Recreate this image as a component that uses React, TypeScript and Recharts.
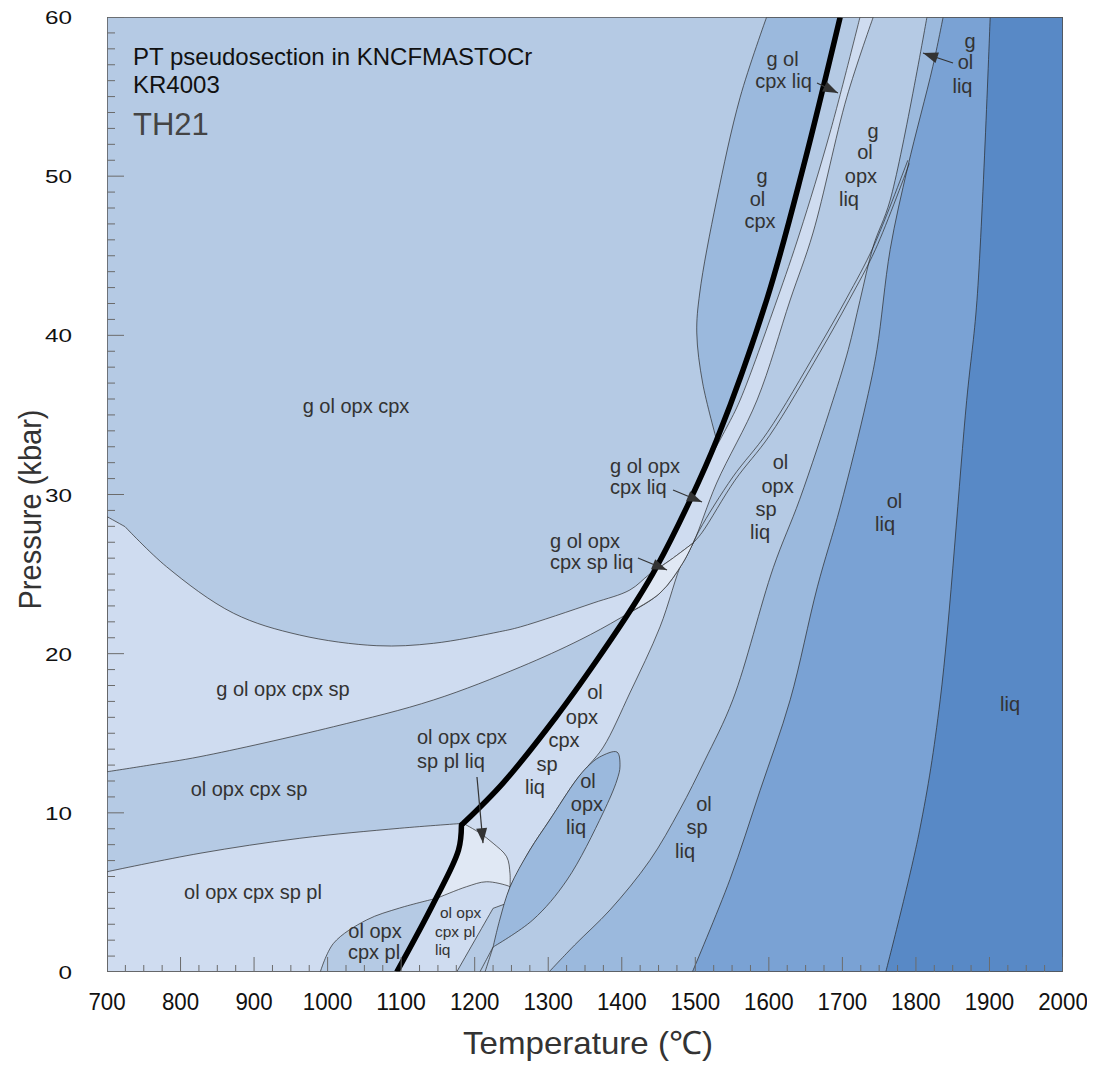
import { ComposedChart, Area, Line, Scatter, XAxis, YAxis } from 'recharts'

type Pt = [number, number] // [temperature °C, pressure kbar]

const T_LABELS = [700, 800, 900, 1000, 1100, 1200, 1300, 1400, 1500, 1600, 1700, 1800, 1900, 2000]
const P_LABELS = [0, 10, 20, 30, 40, 50, 60]

// phase boundaries
const SOLIDUS: Pt[] = [[1094, 0], [1144, 4.32], [1178, 7.66], [1182, 9.24], [1184.5, 9.34], [1238.5, 11.87], [1310.6, 16.02], [1366.3, 19.6], [1420.7, 23.37], [1447.5, 25.46], [1493, 29.65], [1529, 33.42], [1597, 42.22], [1647, 50.6], [1697, 60]]
const LIQ_ONLY: Pt[] = [[1901, 60], [1883, 42.2], [1869, 35.9], [1833, 17.1], [1805, 8.9], [1759, 0]]
const OL_LIQ: Pt[] = [[1837, 60], [1823, 56.9], [1789, 50.6], [1765, 45.4], [1747, 39.1], [1733, 35.9], [1697, 29.2], [1666, 24.2], [1629, 17.1], [1588, 11.4], [1547, 5.8], [1496, 0]]
const OPX_OUT: Pt[] = [[1815, 60], [1765, 48.5], [1742, 45.6], [1724, 42.2], [1708, 39.1], [1687, 35.9], [1642, 29.7], [1606, 25.4], [1551, 17.1], [1513, 13.3], [1479, 10.2], [1438, 7.0], [1384, 3.9], [1336, 1.7], [1301, 0]]
const G_OUT: Pt[] = [[1789, 51.0], [1742, 45.55], [1706, 42.35], [1666, 39.1], [1598, 33.9], [1551, 31.1], [1506, 27.8], [1497, 26.95]]
const SP_IN: Pt[] = [[1791, 50.8], [1745, 45.4], [1709, 42.2], [1669, 38.9], [1601, 33.7], [1554, 30.9], [1509, 27.6], [1497, 26.95]]
const CPX_OUT: Pt[] = [[1742, 60], [1706, 54.96], [1660, 46.43], [1629, 42.22], [1584, 35.94], [1529, 30.72], [1497, 26.95], [1483, 25.88], [1452, 21.68], [1411, 17.53], [1375, 14.14], [1353, 12.88], [1338, 12.06], [1302, 9.55], [1275, 7.66], [1248, 5.34]]
const PL_LIQ_EDGE: Pt[] = [[1248, 5.34], [1241, 4.27], [1225, 4.0], [1175.5, 0]]
const OPX_IN: Pt[] = [[1724, 60], [1683, 52.71], [1642, 46.43], [1611, 42.22], [1561, 35.94], [1543, 34.24], [1517, 32.04]]
const GOC_EDGE: Pt[] = [[1597, 60], [1561, 54.96], [1529, 48.5], [1506, 42.66], [1502, 40.15], [1510, 37.0], [1529, 33.42]]
const DOME_BASE: Pt[] = [[700, 28.61], [724.5, 27.98], [781, 25.46], [872, 22.54], [962, 21.17], [1067, 20.5], [1144, 20.65], [1234, 21.38], [1262, 21.68], [1361, 23.18], [1411, 24.0], [1438, 25.0], [1466, 25.88], [1497, 26.95]]
const G_LOW: Pt[] = [[700, 12.58], [758, 13.0], [826.5, 13.53], [1008, 15.41], [1144, 17.09], [1262, 19.16], [1343, 20.86], [1398, 22.24], [1452, 23.81], [1483, 25.7], [1497, 26.95]]
const SP_PL: Pt[] = [[700, 6.3], [826.5, 7.46], [962, 8.4], [1098, 9.03], [1184.5, 9.34]]
const PL_OUT: Pt[] = [[1184.5, 9.34], [1207, 8.73], [1225, 8.09], [1243.5, 7.24], [1248, 6.2], [1248, 5.34]]
const PL_IN: Pt[] = [[990, 0], [1008, 1.8], [1053, 3.27], [1098, 4.02], [1148, 4.63], [1189, 5.36], [1216, 5.67], [1246, 5.4], [1248, 5.34]]
const LENS: Pt[] = [[1225, 1.57], [1234, 3.27], [1248, 5.34], [1275, 7.66], [1302, 9.55], [1338, 12.06], [1353, 12.88], [1370, 13.51], [1393.5, 13.82], [1397.6, 12.94], [1393.5, 12.06], [1374.5, 9.99], [1325.5, 5.78], [1279, 3.27], [1225, 1.57]]
const LENS_TAILS: Pt[][] = [[[1225, 1.57], [1207, 0]], [[1225, 1.57], [1214, 0]]]

const ARROWS: Pt[][] = [
  [[1469.7, 30.28], [1509.1, 29.53]],
  [[1422, 26.01], [1461.5, 25.26]],
  [[1203.1, 12.25], [1211.3, 8.1]],
  [[1665.5, 55.85], [1694, 55.22]],
  [[1850.4, 57.11], [1809.6, 57.74]],
]

const LABELS = [
  { t: 1038.6, p: 35.12, text: 'g ol opx cpx' },
  { t: 939.3, p: 17.34, text: 'g ol opx cpx sp' },
  { t: 893.1, p: 11.06, text: 'ol opx cpx sp' },
  { t: 898.5, p: 4.59, text: 'ol opx cpx sp pl' },
  { t: 1064.4, p: 2.14, text: 'ol opx' },
  { t: 1063.1, p: 0.82, text: 'cpx pl' },
  { t: 1363.6, p: 17.15, text: 'ol' },
  { t: 1345.9, p: 15.58, text: 'opx' },
  { t: 1321.4, p: 14.14, text: 'cpx' },
  { t: 1298.3, p: 12.63, text: 'sp' },
  { t: 1282, p: 11.18, text: 'liq' },
  { t: 1354, p: 11.56, text: 'ol' },
  { t: 1352.7, p: 10.12, text: 'opx' },
  { t: 1337.8, p: 8.67, text: 'liq' },
  { t: 1511.8, p: 10.12, text: 'ol' },
  { t: 1502.3, p: 8.67, text: 'sp' },
  { t: 1486, p: 7.16, text: 'liq' },
  { t: 1615.9, p: 31.6, text: 'ol' },
  { t: 1611.8, p: 30.09, text: 'opx' },
  { t: 1596.1, p: 28.65, text: 'sp' },
  { t: 1588, p: 27.2, text: 'liq' },
  { t: 1770.9, p: 29.15, text: 'ol' },
  { t: 1758, p: 27.71, text: 'liq' },
  { t: 1928, p: 16.4, text: 'liq' },
  { t: 1618.6, p: 56.92, text: 'g ol' },
  { t: 1620, p: 55.54, text: 'cpx liq' },
  { t: 1590.7, p: 49.57, text: 'g' },
  { t: 1584.6, p: 48.13, text: 'ol' },
  { t: 1588, p: 46.74, text: 'cpx' },
  { t: 1741.6, p: 52.4, text: 'g' },
  { t: 1730.8, p: 51.08, text: 'ol' },
  { t: 1725.3, p: 49.57, text: 'opx' },
  { t: 1709, p: 48.13, text: 'liq' },
  { t: 1873.5, p: 58.05, text: 'g' },
  { t: 1867.4, p: 56.73, text: 'ol' },
  { t: 1863.3, p: 55.22, text: 'liq' },
]
const LEFT_LABELS = [
  { t: 1121.5, p: 14.32, text: 'ol opx cpx' },
  { t: 1121.5, p: 12.82, text: 'sp pl liq' },
  { t: 1384, p: 31.35, text: 'g ol opx' },
  { t: 1384, p: 30.03, text: 'cpx liq' },
  { t: 1302.4, p: 26.64, text: 'g ol opx' },
  { t: 1302.4, p: 25.32, text: 'cpx sp liq' },
]
const SMALL_LABELS = [
  { t: 1152.8, p: 3.39, text: 'ol opx' },
  { t: 1146, p: 2.2, text: 'cpx pl' },
  { t: 1146, p: 1.07, text: 'liq' },
]
const TITLE = [
  { t: 735.4, p: 57.0, text: 'PT pseudosection in KNCFMASTOCr' },
  { t: 735.4, p: 55.22, text: 'KR4003' },
]
const SAMPLE = [{ t: 735.4, p: 52.59, text: 'TH21' }]

const FILL = ['#e0e8f4', '#cfdcf0', '#b5cae4', '#9bb9dd', '#7aa2d4', '#5889c6']
const FONT = '"Liberation Sans", Arial, sans-serif'

const rows = (pts: Pt[]) => pts.map(([t, p]) => ({ t, p }))
// pieces are joined with their shared end points doubled, which the curve below reads as a corner
const join = (...pieces: Pt[][]): Pt[] => pieces.flat()
const straight = (c: Pt[]): Pt[][] => c.slice(1).map((p, i) => [c[i], p])
const rightOf = (c: Pt[]): Pt[] => join(c, [c[c.length - 1], [2000, 0]], [[2000, 0], [2000, 60]], [[2000, 60], c[0]])

// centripetal Catmull-Rom through the points, broken into pieces wherever a point repeats
function smooth(context: any) {
  let pts: Pt[] = []
  let line = NaN
  const dist = (a: Pt, b: Pt) => Math.hypot(a[0] - b[0], a[1] - b[1])
  const segment = (p0: Pt | undefined, p1: Pt, p2: Pt, p3: Pt | undefined) => {
    const l12 = dist(p1, p2), l12a = Math.sqrt(l12)
    let c1: Pt = p1, c2: Pt = p2
    if (p0) {
      const l01 = dist(p0, p1), a1 = Math.sqrt(l01)
      if (a1 > 1e-6) {
        const A = 2 * l01 + 3 * a1 * l12a + l12, n = 3 * a1 * (a1 + l12a)
        c1 = [(p1[0] * A - p0[0] * l12 + p2[0] * l01) / n, (p1[1] * A - p0[1] * l12 + p2[1] * l01) / n]
      }
    }
    if (p3) {
      const l23 = dist(p2, p3), b1 = Math.sqrt(l23)
      if (b1 > 1e-6) {
        const B = 2 * l23 + 3 * b1 * l12a + l12, m = 3 * b1 * (b1 + l12a)
        c2 = [(p2[0] * B + p1[0] * l23 - p3[0] * l12) / m, (p2[1] * B + p1[1] * l23 - p3[1] * l12) / m]
      }
    }
    context.bezierCurveTo(c1[0], c1[1], c2[0], c2[1], p2[0], p2[1])
  }
  const draw = () => {
    const pieces: Pt[][] = []
    let cur: Pt[] = []
    for (const p of pts) {
      const last = cur[cur.length - 1]
      if (last && Math.abs(last[0] - p[0]) < 1e-6 && Math.abs(last[1] - p[1]) < 1e-6) {
        pieces.push(cur)
        cur = [p]
      } else cur.push(p)
    }
    pieces.push(cur)
    pieces.forEach((pc, k) => {
      if (k === 0) {
        if (line) context.lineTo(pc[0][0], pc[0][1])
        else context.moveTo(pc[0][0], pc[0][1])
      }
      for (let i = 0; i < pc.length - 1; i++) segment(pc[i - 1], pc[i], pc[i + 1], pc[i + 2])
    })
  }
  return {
    areaStart() { line = 0 },
    areaEnd() { line = NaN },
    lineStart() { pts = [] },
    lineEnd() {
      if (pts.length) draw()
      if (line || (line !== 0 && pts.length === 1)) context.closePath()
      line = 1 - line
    },
    point(x: number, y: number) { pts.push([+x, +y]) },
  }
}

function crossing(a: Pt[], b: Pt[]) {
  for (let i = 0; i < a.length - 1; i++) {
    for (let j = 0; j < b.length - 1; j++) {
      const [x1, y1] = a[i], [x2, y2] = a[i + 1], [x3, y3] = b[j], [x4, y4] = b[j + 1]
      const d = (x1 - x2) * (y3 - y4) - (y1 - y2) * (x3 - x4)
      if (!d) continue
      const s = ((x1 - x3) * (y3 - y4) - (y1 - y3) * (x3 - x4)) / d
      const u = -((x1 - x2) * (y1 - y3) - (y1 - y2) * (x1 - x3)) / d
      if (s >= 0 && s <= 1 && u >= 0 && u <= 1) {
        return { i, j, pt: [x1 + s * (x2 - x1), y1 + s * (y2 - y1)] as Pt }
      }
    }
  }
  return { i: 0, j: 0, pt: a[0] }
}

function buildRegions() {
  const mergePt = OPX_IN[OPX_IN.length - 1]
  const kink = SP_PL[SP_PL.length - 1]
  const kinkIdx = SOLIDUS.findIndex(([, p]) => p === kink[1])
  const low = SOLIDUS.slice(0, kinkIdx + 1)
  const high = SOLIDUS.slice(kinkIdx)
  const pl = crossing(PL_IN, SOLIDUS)
  const up = crossing(DOME_BASE, SOLIDUS)
  const lo = crossing(G_LOW, SOLIDUS)
  const plEnd = PL_LIQ_EDGE[PL_LIQ_EDGE.length - 1]

  const liqBand = join(
    CPX_OUT, ...straight(PL_LIQ_EDGE), [plEnd, SOLIDUS[0]], low,
    [...high.filter(([, p]) => p < mergePt[1]), mergePt], [...OPX_IN].reverse(), [OPX_IN[0], CPX_OUT[0]],
  )
  const gBand = join(DOME_BASE.slice(0, 2), DOME_BASE.slice(1), [...G_LOW].reverse(), [G_LOW[0], DOME_BASE[0]])
  const spPl = join(SP_PL, [...low].reverse(), [SOLIDUS[0], [700, 0]], [[700, 0], SP_PL[0]])
  const plLens = join([...PL_IN.slice(0, pl.i + 1), pl.pt], [pl.pt, ...SOLIDUS.slice(0, pl.j + 1).reverse()], [SOLIDUS[0], PL_IN[0]])
  const smallSix = join(PL_OUT, [...PL_IN.slice(pl.i + 1).reverse(), pl.pt], [pl.pt, ...SOLIDUS.slice(pl.j + 1, kinkIdx + 1)])
  const bigSix = join(
    [up.pt, ...DOME_BASE.slice(up.i + 1)], [...G_LOW.slice(lo.i + 1).reverse(), lo.pt],
    [lo.pt, ...SOLIDUS.slice(lo.j + 1, up.j + 1), up.pt],
  )
  const gocEnd = GOC_EDGE[GOC_EDGE.length - 1]
  const gocDome = join(GOC_EDGE, [gocEnd, ...SOLIDUS.filter(([, p]) => p > gocEnd[1])], [SOLIDUS[SOLIDUS.length - 1], GOC_EDGE[0]])

  return [
    { pts: join([[700, 0], [2000, 0]], [[2000, 0], [2000, 60]], [[2000, 60], [700, 60]], [[700, 60], [700, 0]]), fill: FILL[2], line: false },
    { pts: rightOf(OPX_OUT), fill: FILL[3], line: true },
    { pts: rightOf(OL_LIQ), fill: FILL[4], line: true },
    { pts: rightOf(LIQ_ONLY), fill: FILL[5], line: true },
    { pts: liqBand, fill: FILL[1], line: true },
    { pts: gBand, fill: FILL[1], line: true },
    { pts: spPl, fill: FILL[1], line: true },
    { pts: plLens, fill: FILL[2], line: true },
    { pts: bigSix, fill: FILL[0], line: true },
    { pts: smallSix, fill: FILL[0], line: true },
    { pts: LENS, fill: FILL[3], line: true },
    { pts: gocDome, fill: FILL[3], line: true },
  ]
}

const TICK_MARKS = [
  ...Array.from({ length: 61 }, (_, k) => ({ t: 700, p: k, side: 'y', major: k % 10 === 0 })),
  ...Array.from({ length: 53 }, (_, k) => ({ t: 700 + k * 25, p: 0, side: 'x', major: k % 4 === 0 })),
]

const tickMark = (props: any) => {
  const { cx, cy, payload } = props
  const len = payload.side === 'y' ? (payload.major ? 17 : 8) : (payload.major ? 15 : 7)
  return payload.side === 'y'
    ? <line x1={cx} x2={cx + len} y1={cy} y2={cy} stroke="#6b6b6b" strokeWidth={1} />
    : <line x1={cx} x2={cx} y1={cy} y2={cy - len} stroke="#6b6b6b" strokeWidth={1} />
}

const textShape = (size: number, anchor: 'middle' | 'start', color = '#333') => (props: any) => (
  <text x={props.cx} y={props.cy} textAnchor={anchor} fontSize={size} fill={color} fontFamily={FONT}>
    {props.payload.text}
  </text>
)

function arrowDot() {
  let tail = { x: 0, y: 0 }
  return (props: any) => {
    const { cx, cy, index, points } = props
    if (index === 0) {
      tail = { x: cx, y: cy }
      return <g key="tail" />
    }
    const from = points && points[0] ? points[0] : tail
    const a = Math.atan2(cy - from.y, cx - from.x)
    const L = 15, W = 5.5
    const bx = cx - L * Math.cos(a), by = cy - L * Math.sin(a)
    const pts = `${cx},${cy} ${bx + W * Math.sin(a)},${by - W * Math.cos(a)} ${bx - W * Math.sin(a)},${by + W * Math.cos(a)}`
    return <polygon key="head" points={pts} fill="#333" />
  }
}

const TempTick = (props: any) => {
  const { x, y, payload } = props
  const s = String(payload.value)
  return (
    <text x={x} y={y + 38} textAnchor="middle" fontSize={24} fill="#111" fontFamily={FONT}
      textLength={s.length * 12.4} lengthAdjust="spacingAndGlyphs">{s}</text>
  )
}

const PresTick = (props: any) => {
  const { x, y, payload } = props
  const s = String(payload.value)
  return (
    <text x={x - 35} y={y + 7} textAnchor="end" fontSize={18} fill="#111" fontFamily={FONT}
      textLength={s.length * 13.5} lengthAdjust="spacingAndGlyphs">{s}</text>
  )
}

export default function App() {
  const regions = buildRegions()
  const kinkIdx = SOLIDUS.findIndex(([, p]) => p === SP_PL[SP_PL.length - 1][1])
  const solidusLine = join(SOLIDUS.slice(0, kinkIdx), SOLIDUS.slice(kinkIdx - 1, kinkIdx + 1), SOLIDUS.slice(kinkIdx))
  return (
    <ComposedChart width={1087} height={1057} margin={{ top: 9, right: 32, bottom: 7, left: 0 }}>
      <XAxis type="number" dataKey="t" domain={[700, 2000]} ticks={T_LABELS} interval={0} allowDataOverflow
        tickSize={0} tickMargin={0} tickLine={false} axisLine={false} height={86} tick={<TempTick />}
        label={(lp: any) => {
          const vb = lp.viewBox
          return (
            <text x={vb.x + vb.width / 2 + 3} y={vb.y + 82} textAnchor="middle" fontSize={32} fill="#333"
              fontFamily={FONT} textLength={250} lengthAdjust="spacingAndGlyphs">Temperature (℃)</text>
          )
        }} />
      <YAxis type="number" dataKey="p" domain={[0, 60]} ticks={P_LABELS} interval={0} allowDataOverflow
        tickSize={0} tickMargin={0} tickLine={false} axisLine={false} width={99} tick={<PresTick />}
        label={(lp: any) => {
          const vb = lp.viewBox
          const cx = vb.x + 22, cy = vb.y + vb.height / 2 + 15
          return (
            <text x={cx} y={cy} transform={`rotate(-90 ${cx} ${cy})`} textAnchor="middle" dominantBaseline="central"
              fontSize={32} fill="#333" fontFamily={FONT} textLength={200} lengthAdjust="spacingAndGlyphs">Pressure (kbar)</text>
          )
        }} />

      {regions.map((r, k) => (
        <Area key={`r${k}`} data={rows(r.pts)} dataKey="p" type={smooth as any} fill={r.fill} fillOpacity={1}
          stroke={r.line ? '#2a2a2a' : 'none'} strokeWidth={0.7} dot={false} activeDot={false} isAnimationActive={false} />
      ))}

      {[G_OUT, SP_IN, ...LENS_TAILS].map((c, k) => (
        <Line key={`b${k}`} data={rows(c)} dataKey="p" type={smooth as any} stroke="#2a2a2a" strokeWidth={0.7}
          dot={false} activeDot={false} isAnimationActive={false} />
      ))}
      <Line data={rows(solidusLine)} dataKey="p" type={smooth as any} stroke="#000" strokeWidth={5.5} strokeLinejoin="round"
        dot={false} activeDot={false} isAnimationActive={false} />
      <Line data={rows([[700, 0], [2000, 0], [2000, 60], [700, 60], [700, 0]])} dataKey="p" type="linear"
        stroke="#555" strokeWidth={1.5} dot={false} activeDot={false} isAnimationActive={false} />
      {ARROWS.map((a, k) => (
        <Line key={`a${k}`} data={rows(a)} dataKey="p" type="linear" stroke="#333" strokeWidth={1.2}
          dot={arrowDot()} activeDot={false} isAnimationActive={false} />
      ))}

      <Scatter data={TICK_MARKS} dataKey="p" shape={tickMark} isAnimationActive={false} />
      <Scatter data={LABELS} dataKey="p" shape={textShape(20, 'middle')} isAnimationActive={false} />
      <Scatter data={LEFT_LABELS} dataKey="p" shape={textShape(20, 'start')} isAnimationActive={false} />
      <Scatter data={SMALL_LABELS} dataKey="p" shape={textShape(15.5, 'start')} isAnimationActive={false} />
      <Scatter data={TITLE} dataKey="p" shape={textShape(24, 'start', '#111')} isAnimationActive={false} />
      <Scatter data={SAMPLE} dataKey="p" shape={textShape(31, 'start', '#444')} isAnimationActive={false} />
    </ComposedChart>
  )
}
